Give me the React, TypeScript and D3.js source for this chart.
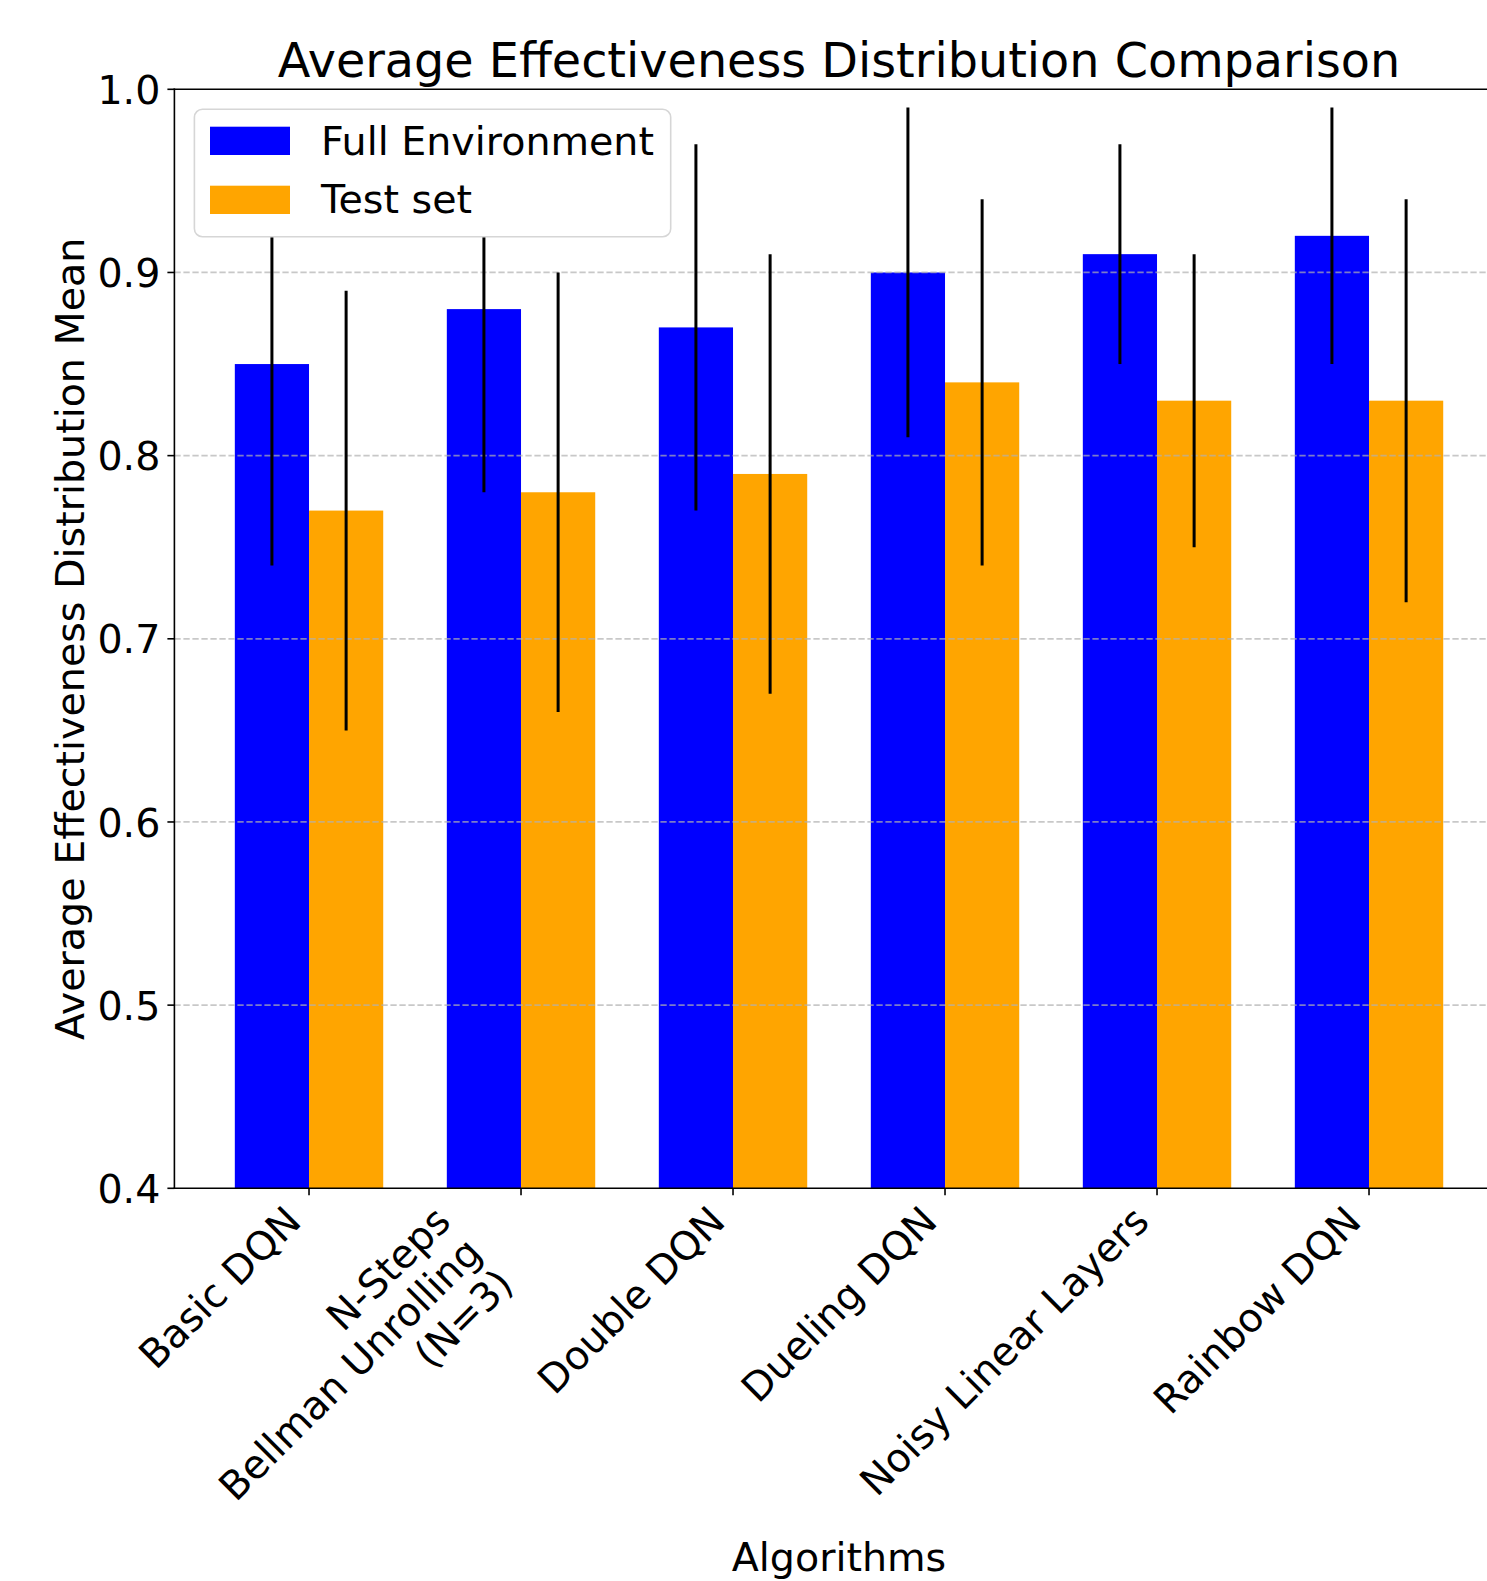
import React from "react";
import * as d3 from "d3";

const categories = [
  ["Basic DQN"],
  ["N-Steps", "Bellman Unrolling", "(N=3)"],
  ["Double DQN"],
  ["Dueling DQN"],
  ["Noisy Linear Layers"],
  ["Rainbow DQN"],
];
const fullEnvMeans = [0.85, 0.88, 0.87, 0.9, 0.91, 0.92];
const fullEnvErr = [0.11, 0.1, 0.1, 0.09, 0.06, 0.07];
const testMeans = [0.77, 0.78, 0.79, 0.84, 0.83, 0.83];
const testErr = [0.12, 0.12, 0.12, 0.1, 0.08, 0.11];
const yTicks = [0.4, 0.5, 0.6, 0.7, 0.8, 0.9, 1.0];
const seriesNames = ["Full Environment", "Test set"];
const seriesColors = ["#0000ff", "#ffa500"];

const W = 1487;
const H = 1581;
const FONT = "DejaVu Sans";
const FS = 39.6;
const TITLE_FS = 47.7;
const BAR_W = 0.35;

const x = d3.scaleLinear().domain([-0.635, 5.635]).range([174.4, 174.4 + 6.27 * 212]);
const y = d3.scaleLinear().domain([0.4, 1.0]).range([1188.3, 89.3]);

export default function App() {
  const left = x(-0.635);
  const right = x(5.635);
  const top = y(1.0);
  const bottom = y(0.4);
  const tickLen = 7;
  const pad = 7;
  const cos = Math.SQRT1_2;

  const bars: any[] = [];
  const errs: any[] = [];
  categories.forEach((_, i) => {
    const b0 = x(i - BAR_W);
    const b1 = x(i);
    const b2 = x(i + BAR_W);
    bars.push(
      <rect key={"b" + i} x={b0} y={y(fullEnvMeans[i])} width={b1 - b0} height={bottom - y(fullEnvMeans[i])} fill={seriesColors[0]} />
    );
    bars.push(
      <rect key={"o" + i} x={b1} y={y(testMeans[i])} width={b2 - b1} height={bottom - y(testMeans[i])} fill={seriesColors[1]} />
    );
    const cx0 = x(i - BAR_W / 2);
    const cx1 = x(i + BAR_W / 2);
    errs.push(
      <line key={"e0" + i} x1={cx0} x2={cx0} y1={y(fullEnvMeans[i] + fullEnvErr[i])} y2={y(fullEnvMeans[i] - fullEnvErr[i])} stroke="#000" strokeWidth={3} />
    );
    errs.push(
      <line key={"e1" + i} x1={cx1} x2={cx1} y1={y(testMeans[i] + testErr[i])} y2={y(testMeans[i] - testErr[i])} stroke="#000" strokeWidth={3} />
    );
  });

  const y0 = bottom + tickLen + pad;
  const lineTop = 0.76 * FS;
  const lineStep = 1.12 * FS;
  const xLabels = categories.map((lines, i) => {
    const boxH = 0.968 * FS + (lines.length - 1) * lineStep;
    const tx = x(i);
    const ty = y0 + boxH * cos;
    return (
      <g key={"xl" + i} transform={`translate(${tx},${ty}) rotate(-45)`}>
        {lines.map((ln, j) => (
          <text key={j} x={0} y={-boxH + lineTop + j * lineStep} textAnchor="end" fontFamily={FONT} fontSize={FS} fill="#000">
            {ln}
          </text>
        ))}
      </g>
    );
  });

  return (
    <svg width={W} height={H} style={{ position: "absolute", left: 0, top: 0, background: "#fff" }} xmlns="http://www.w3.org/2000/svg">
      <rect x={0} y={0} width={W} height={H} fill="#fff" />
      {bars}
      {yTicks.slice(1, -1).map((t) => (
        <line key={"g" + t} x1={left} x2={right} y1={y(t)} y2={y(t)} stroke="#b0b0b0" strokeOpacity={0.7} strokeWidth={1.7} strokeDasharray="6.3 2.7" />
      ))}
      {errs}
      {/* spines */}
      <line x1={left} x2={left} y1={top} y2={bottom} stroke="#000" strokeWidth={1.6} strokeLinecap="square" />
      <line x1={left} x2={right} y1={top} y2={top} stroke="#000" strokeWidth={1.6} strokeLinecap="square" />
      <line x1={left} x2={right} y1={bottom} y2={bottom} stroke="#000" strokeWidth={1.6} strokeLinecap="square" />
      <line x1={right} x2={right} y1={top} y2={bottom} stroke="#000" strokeWidth={1.6} />
      {/* y ticks */}
      {yTicks.map((t) => (
        <g key={"yt" + t}>
          <line x1={left - tickLen} x2={left} y1={y(t)} y2={y(t)} stroke="#000" strokeWidth={1.6} />
          <text x={left - tickLen - pad} y={y(t) + 14.6} textAnchor="end" fontFamily={FONT} fontSize={FS} fill="#000">
            {t.toFixed(1)}
          </text>
        </g>
      ))}
      {/* x ticks */}
      {categories.map((_, i) => (
        <line key={"xt" + i} x1={x(i)} x2={x(i)} y1={bottom} y2={bottom + tickLen} stroke="#000" strokeWidth={1.6} />
      ))}
      {xLabels}
      {/* axis labels */}
      <text x={(left + right) / 2} y={1571} textAnchor="middle" fontFamily={FONT} fontSize={FS} fill="#000">
        Algorithms
      </text>
      <text transform={`translate(84,${(top + bottom) / 2}) rotate(-90)`} textAnchor="middle" fontFamily={FONT} fontSize={FS} fill="#000">
        Average Effectiveness Distribution Mean
      </text>
      <text x={(left + right) / 2} y={76.7} textAnchor="middle" fontFamily={FONT} fontSize={TITLE_FS} fill="#000">
        Average Effectiveness Distribution Comparison
      </text>
      {/* legend */}
      <g>
        <rect x={194.4} y={109.3} width={476.3} height={127.4} rx={8} ry={8} fill="#fff" stroke="#d6d6d6" strokeWidth={1.6} />
        {seriesNames.map((nm, k) => (
          <g key={"lg" + k}>
            <rect x={210} y={126.7 + k * 59} width={80} height={28.3} fill={seriesColors[k]} />
            <text x={321} y={155 + k * 58.3} fontFamily={FONT} fontSize={FS} fill="#000">
              {nm}
            </text>
          </g>
        ))}
      </g>
    </svg>
  );
}
